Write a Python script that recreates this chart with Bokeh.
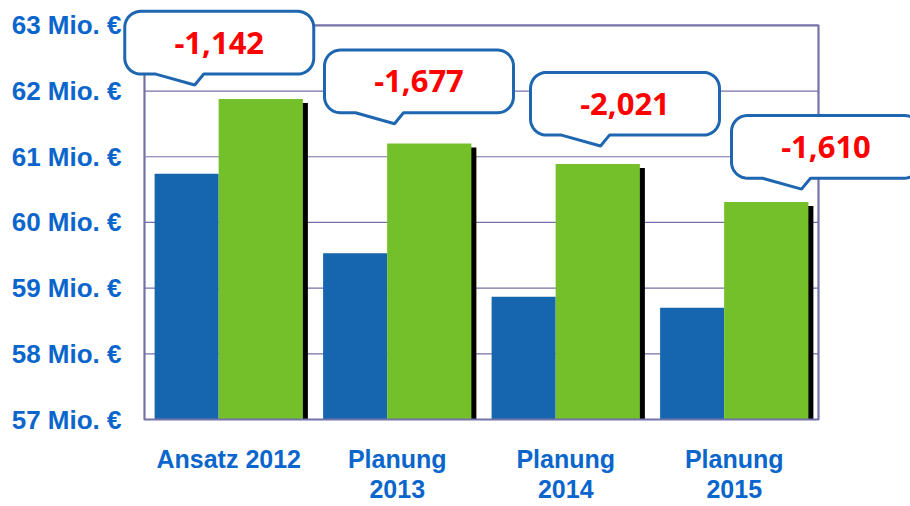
import numpy as np
from bokeh.plotting import figure
from bokeh.models import Range1d, FixedTicker, PolyAnnotation
from bokeh.core.properties import value
from bokeh.embed import file_html
from bokeh.resources import INLINE

# ---------------- data ----------------
categories = ["Ansatz 2012", "Planung\n2013", "Planung\n2014", "Planung\n2015"]
ist_values = [60.74, 59.53, 58.87, 58.70]      # blue bars (Mio. €)
soll_values = [61.88, 61.20, 60.89, 60.31]     # green bars (Mio. €)
callout_labels = ["-1,142", "-1,677", "-2,021", "-1,610"]
y_ticks = [57, 58, 59, 60, 61, 62, 63]
y_tick_labels = [f"{t} Mio. €" for t in y_ticks]

# ---------------- styles ----------------
BLUE = "#1565AF"
GREEN = "#74C02A"
FRAME = "#7472A8"
LABEL_BLUE = "#0A66CC"
CALLOUT_LINE = "#1F66B0"

PX_X = 168.5   # pixels per category unit
PX_Y = 66.0    # pixels per Mio. €
LEFT_SPACE = 22.0  # px left of the first category inside the drawing area
PAD = 2.0          # px below the base line inside the drawing area
TOP_SPACE = 25.0   # px above the top tick inside the drawing area
RIGHT_SPACE = 92.0 # px right of the last category inside the drawing area

n = len(categories)
y0 = y_ticks[0]

p = figure(width=910, height=506,
           x_range=Range1d(-LEFT_SPACE / PX_X, n + RIGHT_SPACE / PX_X),
           y_range=Range1d(y0 - PAD / PX_Y, y_ticks[-1] + TOP_SPACE / PX_Y),
           output_backend="svg", toolbar_location=None,
           min_border_left=122, min_border_right=0,
           min_border_top=0, min_border_bottom=83)
p.outline_line_color = None
p.xgrid.visible = False
p.ygrid.visible = False
p.background_fill_color = "white"
p.border_fill_color = "white"

# axes
ya = p.yaxis[0]
ya.ticker = FixedTicker(ticks=y_ticks)
ya.major_label_overrides = {t: l for t, l in zip(y_ticks, y_tick_labels)}
ya.axis_line_color = None
ya.major_tick_line_color = None
ya.minor_tick_line_color = None
ya.major_label_standoff = -5
ya.major_label_text_font = "Liberation Sans"
ya.major_label_text_font_style = "bold"
ya.major_label_text_font_size = "26px"
ya.major_label_text_color = LABEL_BLUE

centers = [i + 0.5 for i in range(n)]
xa = p.xaxis[0]
xa.ticker = FixedTicker(ticks=centers)
xa.major_label_overrides = {c: l for c, l in zip(centers, categories)}
xa.axis_line_color = None
xa.major_tick_line_color = None
xa.minor_tick_line_color = None
xa.major_label_standoff = 17
xa.major_label_text_font = "Liberation Sans"
xa.major_label_text_font_style = "bold"
xa.major_label_text_font_size = "25px"
xa.major_label_text_color = LABEL_BLUE
xa.major_label_text_line_height = 1.1

# grid lines inside the frame only
inner = y_ticks[1:-1]
p.segment(x0=[0] * len(inner), x1=[n] * len(inner), y0=inner, y1=inner,
          line_color=FRAME, line_width=1.2)

# bars
idx = np.arange(n)
p.quad(left=idx + 0.44 + 5 / PX_X, right=idx + 0.94 + 5 / PX_X,
       bottom=y0, top=np.array(soll_values) - 4 / PX_Y,
       fill_color="black", line_color=None)
p.quad(left=idx + 0.06, right=idx + 0.44, bottom=y0, top=ist_values,
       fill_color=BLUE, line_color=None)
p.quad(left=idx + 0.44, right=idx + 0.94, bottom=y0, top=soll_values,
       fill_color=GREEN, line_color=None)

# frame
p.quad(left=0, right=n, bottom=y_ticks[0], top=y_ticks[-1],
       fill_color=None, line_color=FRAME, line_width=2.2)

# callouts
W, H, R = 189.0, 63.0, 16.0
TAIL = [(79.0, H), (70.0, H + 11.0), (31.0, H)]
box_dx = [-9.5, 21.75, 59.25, 91.75]   # px offset of box centre from category centre
box_gap = [25.0, 31.0, 29.0, 24.0]     # px between box bottom and green bar top


def shape_px():
    pts = []
    def arc(cx, cy, a0, a1):
        for a in np.linspace(a0, a1, 12):
            pts.append((cx + R * np.cos(a), cy + R * np.sin(a)))
    arc(R, R, np.pi, 1.5 * np.pi)
    arc(W - R, R, 1.5 * np.pi, 2 * np.pi)
    arc(W - R, H - R, 0, 0.5 * np.pi)
    pts.extend(TAIL)
    arc(R, H - R, 0.5 * np.pi, np.pi)
    return np.array(pts)


shp = shape_px()
tx, ty = [], []
for i in range(n):
    left_px = box_dx[i] - W / 2
    xs = list(centers[i] + (left_px + shp[:, 0]) / PX_X)
    ys = list(soll_values[i] + (box_gap[i] + H - shp[:, 1]) / PX_Y)
    p.add_layout(PolyAnnotation(xs=xs, ys=ys, fill_color="white", fill_alpha=1.0,
                                line_color=CALLOUT_LINE, line_width=3, line_alpha=1.0))
    tx.append(centers[i] + box_dx[i] / PX_X)
    ty.append(soll_values[i] + (box_gap[i] + H / 2) / PX_Y)

p.text(x=tx, y=ty, text=callout_labels, text_color="#FF0000",
       text_font=value("Noto Sans"), text_font_size=value("31px"),
       text_font_style="bold",
       text_align="center", text_baseline="middle", level="overlay")

open("out.html", "w").write(file_html(p, INLINE))
